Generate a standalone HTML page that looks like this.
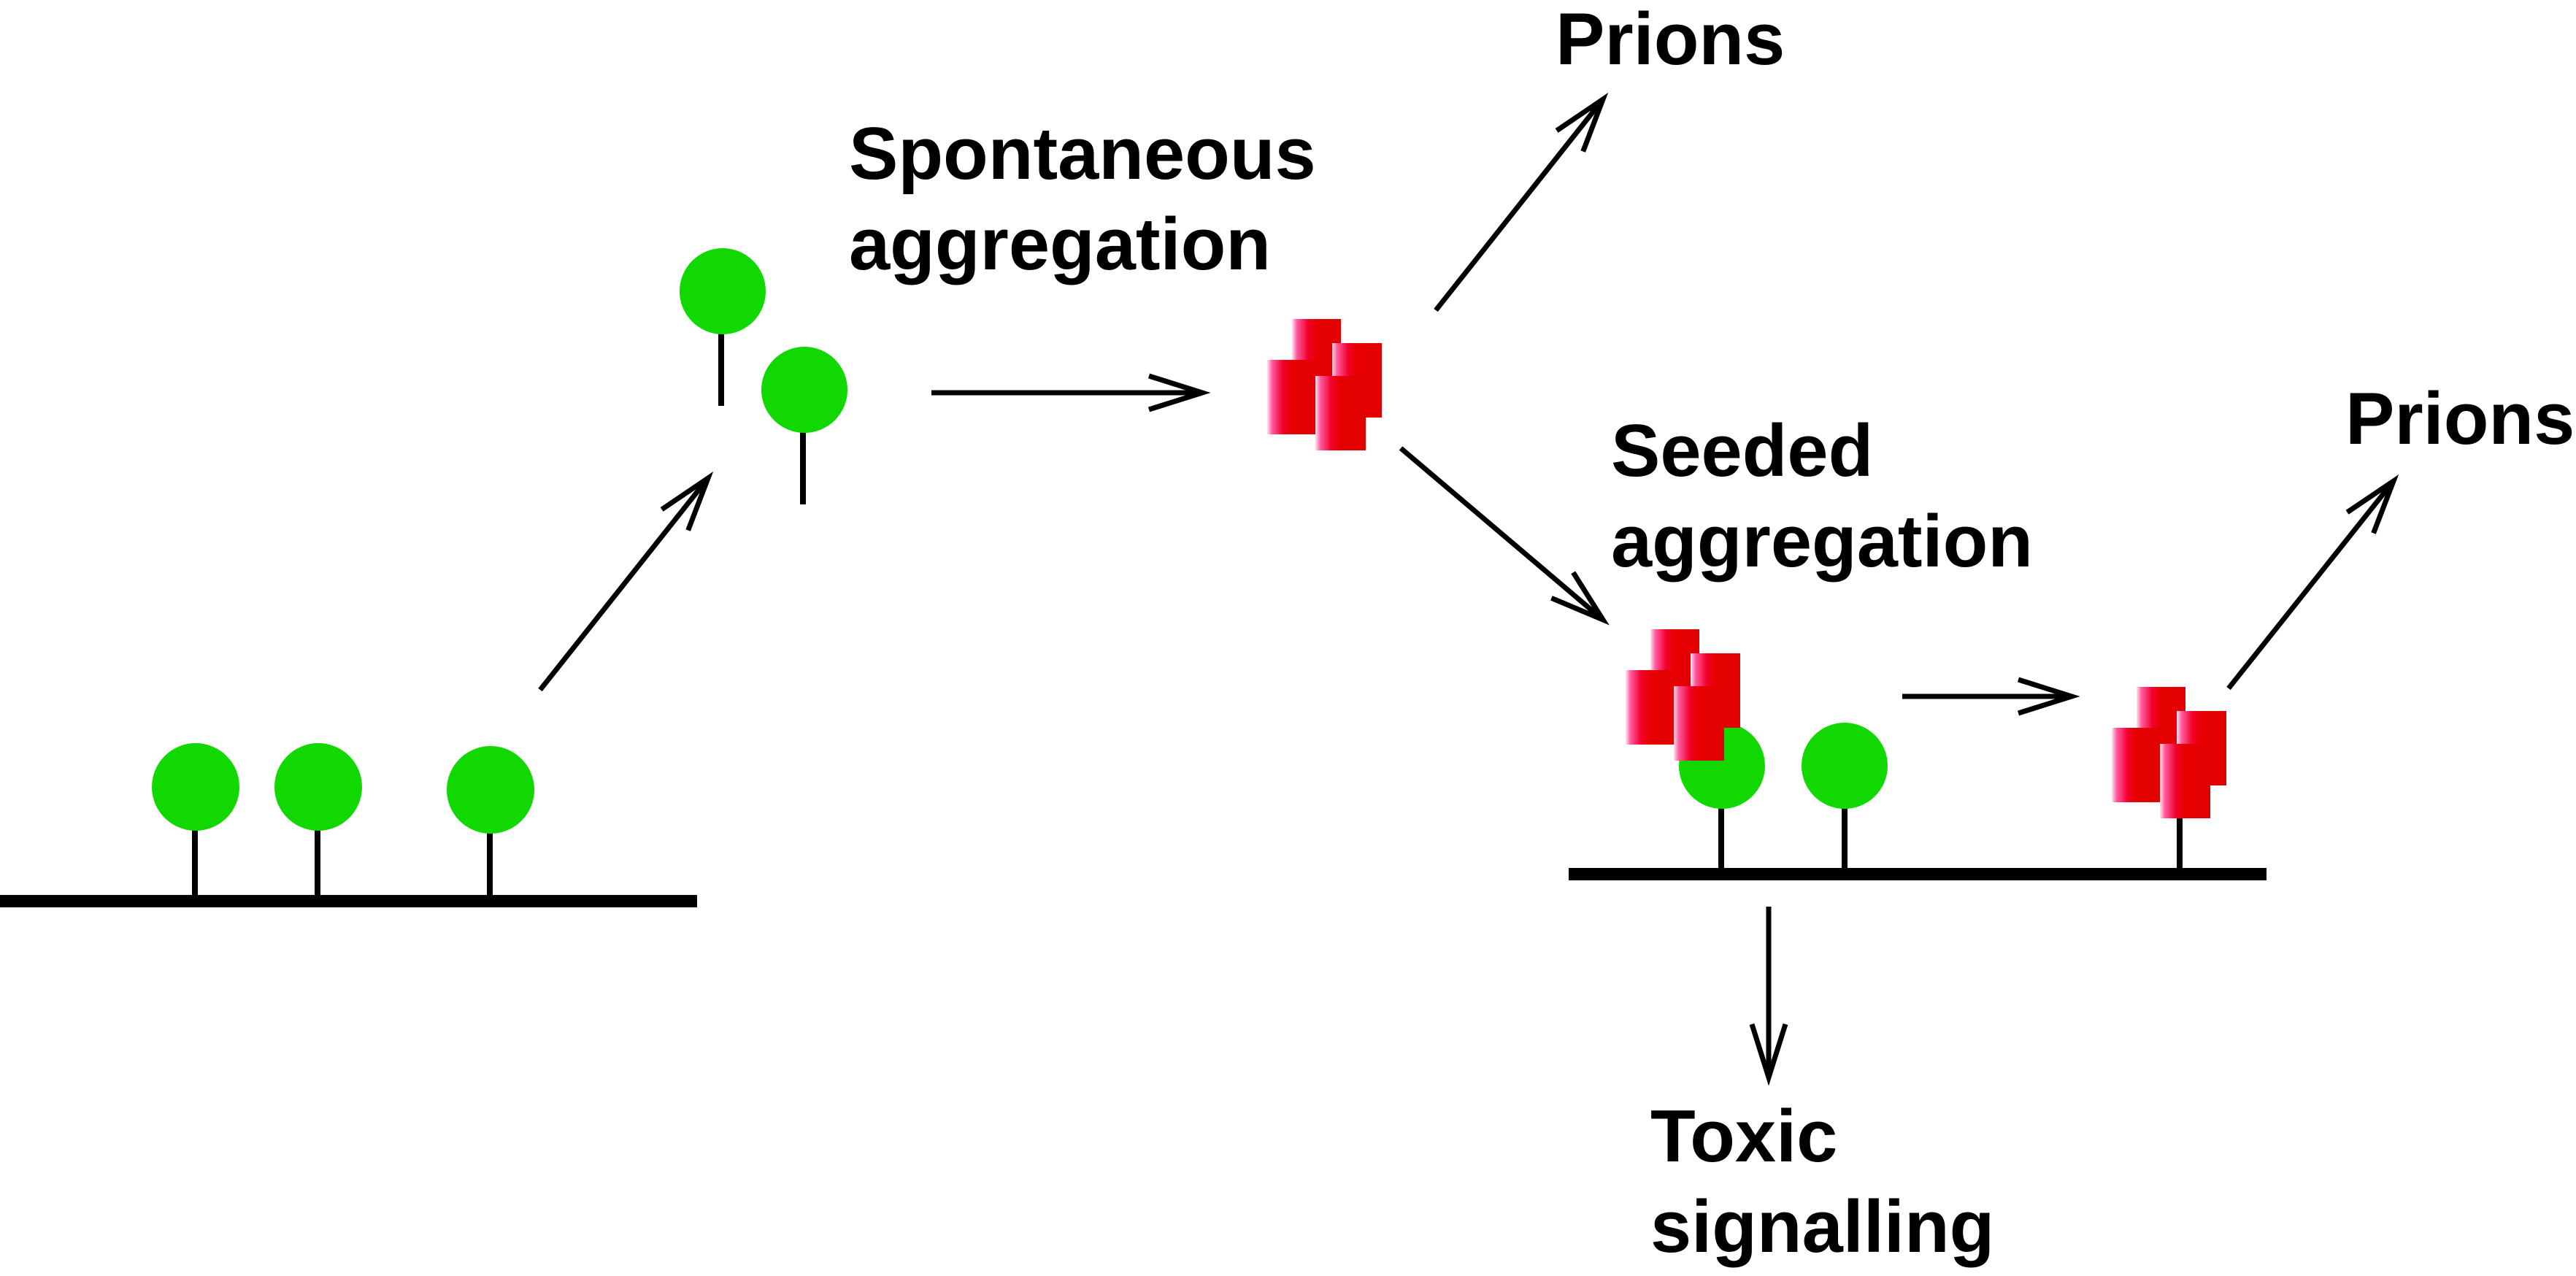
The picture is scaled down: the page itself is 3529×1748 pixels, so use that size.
<!DOCTYPE html>
<html><head><meta charset="utf-8"><style>
html,body{margin:0;padding:0;background:#fff;}
svg{display:block;}
text{font-family:"Liberation Sans",Arial,sans-serif;font-weight:bold;font-size:101px;fill:#000;}
</style></head><body>
<svg width="3529" height="1748" viewBox="0 0 3529 1748" xmlns="http://www.w3.org/2000/svg">
<defs>
<linearGradient id="rg" x1="0" y1="0" x2="1" y2="0">
<stop offset="0" stop-color="#ffe4f0"/>
<stop offset="0.1" stop-color="#ff5aa0"/>
<stop offset="0.32" stop-color="#f2002a"/>
<stop offset="0.5" stop-color="#e60000"/>
<stop offset="1" stop-color="#e20000"/>
</linearGradient>
<marker id="ah" markerUnits="userSpaceOnUse" markerWidth="200" markerHeight="200" viewBox="-100 -100 200 200" refX="0" refY="0" orient="auto">
<path d="M-73,-23 L0,0 L-73,23" fill="none" stroke="#000" stroke-width="7"/>
</marker>
<g id="agg">
<rect x="34" y="0" width="67" height="102" fill="url(#rg)"/>
<rect x="89" y="33" width="68" height="102" fill="url(#rg)"/>
<rect x="0" y="56" width="67" height="102" fill="url(#rg)"/>
<rect x="66" y="78" width="69" height="102" fill="url(#rg)"/>
</g>
</defs>

<!-- left membrane -->
<rect x="0" y="1226" width="955" height="17" fill="#000"/>
<g stroke="#000" stroke-width="8">
<line x1="267" y1="1120" x2="267" y2="1228"/>
<line x1="435" y1="1120" x2="435" y2="1228"/>
<line x1="671" y1="1125" x2="671" y2="1228"/>
<line x1="988" y1="440" x2="988" y2="556"/>
<line x1="1100" y1="575" x2="1100" y2="691"/>
<line x1="2358" y1="1090" x2="2358" y2="1192"/>
<line x1="2527" y1="1090" x2="2527" y2="1192"/>
<line x1="2986" y1="1100" x2="2986" y2="1192"/>
</g>
<g fill="#10d800">
<circle cx="268" cy="1078" r="60"/>
<circle cx="436" cy="1078" r="60"/>
<circle cx="672" cy="1082" r="60"/>
<circle cx="990" cy="399" r="59"/>
<circle cx="1102" cy="534" r="59"/>
<circle cx="2359" cy="1049" r="59"/>
<circle cx="2527" cy="1049" r="59"/>
</g>
<rect x="2149" y="1189" width="956" height="17" fill="#000"/>

<use href="#agg" transform="translate(1736,437)"/>
<use href="#agg" transform="translate(2227,862)"/>
<use href="#agg" transform="translate(2893,941)"/>

<g stroke="#000" stroke-width="7" fill="none" marker-end="url(#ah)">
<line x1="740" y1="945" x2="970" y2="655"/>
<line x1="1276" y1="538" x2="1647" y2="538"/>
<line x1="1967" y1="425" x2="2196" y2="136"/>
<line x1="1919" y1="614" x2="2196" y2="849"/>
<line x1="2606" y1="954" x2="2838" y2="954"/>
<line x1="3053" y1="943" x2="3279" y2="659"/>
<line x1="2423" y1="1242" x2="2423" y2="1476"/>
</g>

<text x="2131" y="88">Prions</text>
<text x="1163" y="245">Spontaneous</text>
<text x="1163" y="369">aggregation</text>
<text x="2207" y="652">Seeded</text>
<text x="2207" y="776">aggregation</text>
<text x="3213" y="608">Prions</text>
<text x="2261" y="1591">Toxic</text>
<text x="2261" y="1715">signalling</text>
</svg>
</body></html>
